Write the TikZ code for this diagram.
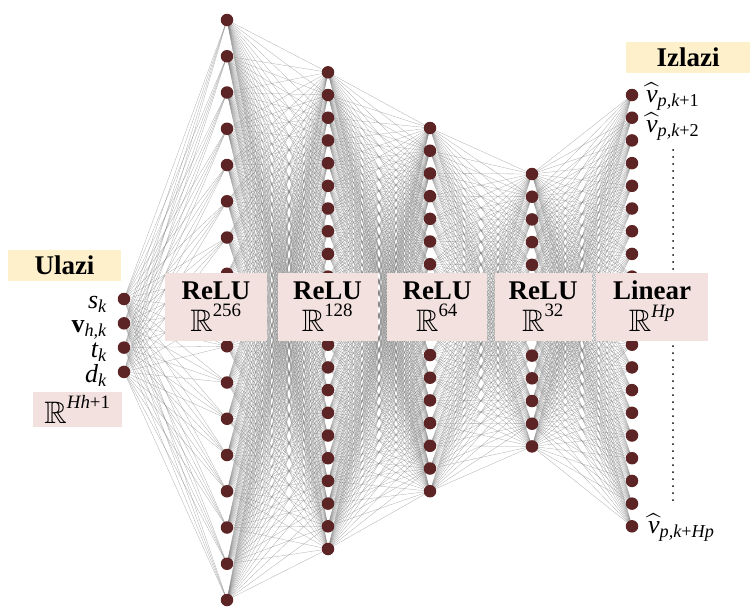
\documentclass[tikz,border=0pt]{standalone}
\usepackage{amsmath,amssymb}
\usepackage{fontspec}
\setmainfont{Liberation Serif}
\newcommand{\ti}[1]{\text{\normalfont\itshape #1}}
\newcommand{\tu}[1]{\text{\normalfont #1}}
\newcommand{\RR}{\scalebox{1.15}{$\mathbb{R}$}}
\pgfdeclarelayer{bg}
\pgfsetlayers{bg,main}
\definecolor{nodecol}{RGB}{92,36,36}
\definecolor{boxpink}{RGB}{242,225,222}
\definecolor{boxyellow}{RGB}{253,240,202}
\tikzset{
  neuron/.style={circle, fill=nodecol, minimum size=12.5pt, inner sep=0pt},
  conn/.style={draw=black!50, line width=0.3pt, opacity=0.65},
  layerbox/.style={fill=boxpink, inner sep=0pt, align=center, font=\fontsize{27}{32}\selectfont},
  titlebox/.style={fill=boxyellow, inner sep=0pt, font=\fontsize{27}{30}\selectfont\bfseries},
  lab/.style={inner sep=0pt, font=\fontsize{26}{30}\selectfont},
  dotline/.style={line width=2pt, line cap=round, dash pattern=on 0pt off 7pt}
}
\begin{document}
\begin{tikzpicture}[x=1pt,y=-1pt]
\useasboundingbox (0,0) rectangle (750,606);
% neurons
\foreach \i in {1,...,4} \node[neuron] (a\i) at (124, {299+24.3*(\i-1)}) {};
\foreach \i in {1,...,17} \node[neuron] (b\i) at (227, {20+36.25*(\i-1)}) {};
\foreach \i in {1,...,22} \node[neuron] (c\i) at (328, {72.3+22.7*(\i-1)}) {};
\foreach \i in {1,...,17} \node[neuron] (d\i) at (430, {128+22.7*(\i-1)}) {};
\foreach \i in {1,...,13} \node[neuron] (e\i) at (532, {174+22.7*(\i-1)}) {};
\foreach \i in {1,...,20} \node[neuron] (f\i) at (632, {95+22.7*(\i-1)}) {};
% connections
\begin{pgfonlayer}{bg}
\foreach \i in {1,...,4} \foreach \j in {1,...,17} \draw[conn] (a\i.center) -- (b\j.center);
\foreach \i in {1,...,17} \foreach \j in {1,...,22} \draw[conn] (b\i.center) -- (c\j.center);
\foreach \i in {1,...,22} \foreach \j in {1,...,17} \draw[conn] (c\i.center) -- (d\j.center);
\foreach \i in {1,...,17} \foreach \j in {1,...,13} \draw[conn] (d\i.center) -- (e\j.center);
\foreach \i in {1,...,13} \foreach \j in {1,...,20} \draw[conn] (e\i.center) -- (f\j.center);
\end{pgfonlayer}
% dotted output line
\coordinate (dtop) at (673,150);
\coordinate (dbot) at (673,505);
\draw[dotline] (dtop) -- (dbot);
% layer boxes
\node[layerbox, minimum width=102pt, minimum height=68pt] (box1) at (216,306.5) {\textbf{ReLU}\\$\RR^{\tu{256}}$};
\node[layerbox, minimum width=100pt, minimum height=68pt] (box2) at (327.5,306.5) {\textbf{ReLU}\\$\RR^{\tu{128}}$};
\node[layerbox, minimum width=100pt, minimum height=68pt] (box3) at (437,306.5) {\textbf{ReLU}\\$\RR^{\tu{64}}$};
\node[layerbox, minimum width=97pt, minimum height=68pt] (box4) at (543,306.5) {\textbf{ReLU}\\$\RR^{\tu{32}}$};
\node[layerbox, minimum width=112pt, minimum height=68pt] (box5) at (652,306.5) {\textbf{Linear}\\$\RR^{\ti{Hp}}$};
% titles
\node[titlebox, minimum width=113pt, minimum height=31pt] (ulazi) at (64.5,265) {Ulazi};
\node[titlebox, minimum width=124pt, minimum height=31pt] (izlazi) at (688,57) {Izlazi};
\node[layerbox, minimum width=89pt, minimum height=35pt] (inbox) at (77.5,409.5) {$\RR^{\ti{Hh}\tu{+1}}$};
% input labels
\node[lab, anchor=base east] (ls) at (107,308) {$\ti{s}_{\ti{k}}$};
\node[lab, anchor=base east] (lv) at (107,332) {$\text{\normalfont\bfseries v}_{\ti{h,k}}$};
\node[lab, anchor=base east] (lt) at (107,357) {$\ti{t}_{\ti{k}}$};
\node[lab, anchor=base east] (ld) at (107,382) {$\ti{d}_{\ti{k}}$};
% output labels
\node[lab, anchor=base west] (o1) at (646,102) {$\widehat{\ti{v}}_{\ti{p,k}\tu{+1}}$};
\node[lab, anchor=base west] (o2) at (646,132) {$\widehat{\ti{v}}_{\ti{p,k}\tu{+2}}$};
\node[lab, anchor=base west] (o3) at (648,533) {$\widehat{\ti{v}}_{\ti{p,k}\tu{+}\ti{Hp}}$};
\end{tikzpicture}
\end{document}
